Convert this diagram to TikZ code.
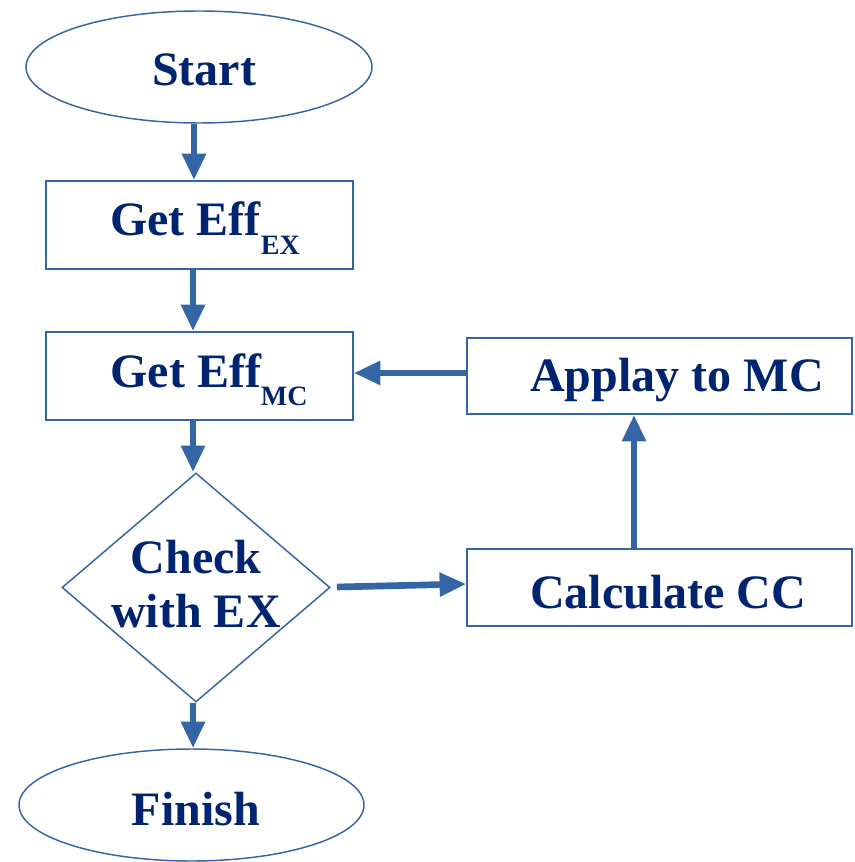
\documentclass[tikz,border=0pt]{standalone}
\usepackage{fontspec}
\setmainfont{Liberation Serif}
\usetikzlibrary{shapes.geometric,arrows.meta}
\definecolor{txt}{RGB}{0,36,112}
\definecolor{ln}{RGB}{52,101,164}
\tikzset{
  shp/.style={draw=ln, line width=1.1pt, inner sep=0pt},
  lbl/.style={text=txt, font=\fontsize{36}{41}\selectfont\bfseries, align=center, inner sep=0pt},
  arr/.style={draw=ln, line width=5pt, -{Triangle[length=20pt,width=17pt]}},
}
\newcommand{\mysub}[1]{\raisebox{-0.38em}{\fontsize{21}{23}\selectfont\bfseries #1}}
\begin{document}
\begin{tikzpicture}[x=0.75pt,y=-0.75pt]
\useasboundingbox (0,0) rectangle (854,862);
% shapes
\node[shp, ellipse, minimum width=346*0.75pt, minimum height=112*0.75pt] (start) at (199,67) {};
\node[shp, rectangle, minimum width=307*0.75pt, minimum height=88*0.75pt] (ex) at (199.5,225) {};
\node[shp, rectangle, minimum width=307*0.75pt, minimum height=88*0.75pt] (mc) at (199.5,376) {};
\node[shp, diamond, minimum width=268*0.75pt, minimum height=229*0.75pt, aspect=1.17] (chk) at (196,587.5) {};
\node[shp, ellipse, minimum width=345*0.75pt, minimum height=112*0.75pt] (fin) at (191.5,805) {};
\node[shp, rectangle, minimum width=385*0.75pt, minimum height=76*0.75pt] (app) at (659.5,376) {};
\node[shp, rectangle, minimum width=385*0.75pt, minimum height=77*0.75pt] (cc) at (659.5,587.5) {};
% texts
\node[lbl] (tstart) at (204,70) {Start};
\node[lbl, anchor=base] (tex) at (205,236) {Get Eff\mysub{EX}};
\node[lbl, anchor=base] (tmc) at (209,387) {Get Eff\mysub{MC}};
\node[lbl] (tchk) at (196,584) {Check\\with EX};
\node[lbl] (tfin) at (196,809) {Finish};
\node[lbl] (tapp) at (677,380) {Applay to MC};
\node[lbl] (tcc) at (668,592) {Calculate CC};
% connectors
\coordinate (s1) at (194,123);
\draw[arr] (start.south -| s1) -- (ex.north -| s1);
\coordinate (s2) at (193,0);
\draw[arr] (ex.south -| s2) -- (mc.north -| s2);
\draw[arr] (mc.south -| s2) -- (chk.north -| s2);
\draw[arr] (chk.south -| s2) -- (fin.north -| s2);
\draw[arr] (app.west |- 0,373) -- (mc.east |- 0,373);
\coordinate (d1) at (337,587);
\draw[arr] (d1) -- (cc.west |- 0,584);
\coordinate (s3) at (634,0);
\draw[arr] (cc.north -| s3) -- (app.south -| s3);
\end{tikzpicture}
\end{document}
